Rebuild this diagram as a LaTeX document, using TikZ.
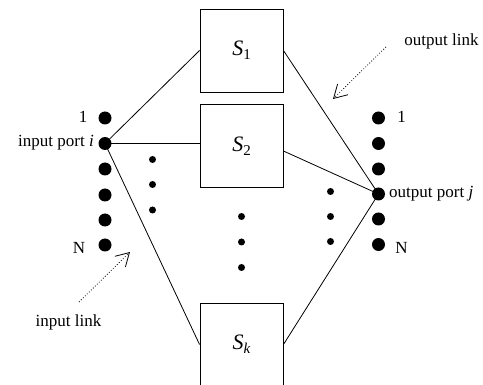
\documentclass[tikz,border=0pt]{standalone}
\usepackage{fontspec}
\setmainfont{Liberation Serif}
\usetikzlibrary{arrows.meta}
\tikzset{
  sbox/.style={draw, line width=0.9pt, minimum width=83pt, minimum height=83pt, inner sep=0pt},
  port/.style={circle, fill=black, minimum size=13pt, inner sep=0pt},
  sdot/.style={circle, fill=black, minimum size=7pt, inner sep=0pt},
  wire/.style={line width=0.8pt},
  lbl/.style={inner sep=0pt, font=\fontsize{17}{20}\selectfont},
  linkarrow/.style={dotted, line width=0.8pt, -{Straight Barb[length=13pt,width=15pt,line width=0.8pt]}}
}
\newcommand{\slabel}[1]{{\fontsize{22}{22}\selectfont\textit{S}\raisebox{-4pt}{\fontsize{15}{15}\selectfont #1}}}
\begin{document}
\begin{tikzpicture}[x=1pt,y=-1pt]
\useasboundingbox (0,0) rectangle (483,385);
\clip (0,0) rectangle (483,385);
% switch boxes
\node[sbox] (s1) at (241.5,50.5) {\slabel{1}};
\node[sbox] (s2) at (241.5,146) {\slabel{2}};
\node[sbox] (sk) at (241.5,344.5) {\slabel{\textit{k}}};
% input ports
\node[port] (l1) at (105,118) {};
\node[port] (li) at (105,143.5) {};
\node[port] (l3) at (105,169) {};
\node[port] (l4) at (105,195) {};
\node[port] (l5) at (105,220) {};
\node[port] (l6) at (105,245) {};
% output ports
\node[port] (r1) at (378.5,118) {};
\node[port] (r2) at (378.5,143.5) {};
\node[port] (r3) at (378.5,169) {};
\node[port] (rj) at (378.5,194) {};
\node[port] (r5) at (378.5,219) {};
\node[port] (r6) at (378.5,244.5) {};
% ellipsis dots
\node[sdot] (a1) at (152.5,159.5) {};
\node[sdot] (a2) at (152.5,184.5) {};
\node[sdot] (a3) at (152.5,210) {};
\node[sdot] (m1) at (241.5,216.5) {};
\node[sdot] (m2) at (241.5,242) {};
\node[sdot] (m3) at (241.5,267.5) {};
\node[sdot] (b1) at (330.5,191.5) {};
\node[sdot] (b2) at (330.5,216.5) {};
\node[sdot] (b3) at (330.5,241.5) {};
% connections
\draw[wire] (li.center) -- (s1.west);
\draw[wire] (li.center) -- (li.center -| s2.west);
\draw[wire] (li.center) -- (sk.west);
\draw[wire] (s1.east) -- (rj.center);
\draw[wire] ([yshift=-5pt]s2.east) -- (rj.center);
\draw[wire] (sk.east) -- (rj.center);
% labels
\node[lbl] (t1l) at (83,117) {1};
\node[lbl, anchor=east] (til) at (94,143) {input port \textit{i}};
\node[lbl] (tnl) at (79,248) {N};
\node[lbl] (t1r) at (401.5,117) {1};
\node[lbl, anchor=west] (tjr) at (389,194) {output port \textit{j}};
\node[lbl] (tnr) at (401.5,248) {N};
\node[lbl] (olink) at (441.5,41) {output link};
\node[lbl] (ilink) at (68.5,322) {input link};
% link arrows
\coordinate (os) at (386,47);
\coordinate (oe) at (333,99);
\coordinate (is) at (79,302);
\coordinate (ie) at (130,252);
\draw[linkarrow] (os) -- (oe);
\draw[linkarrow] (is) -- (ie);
\end{tikzpicture}
\end{document}
